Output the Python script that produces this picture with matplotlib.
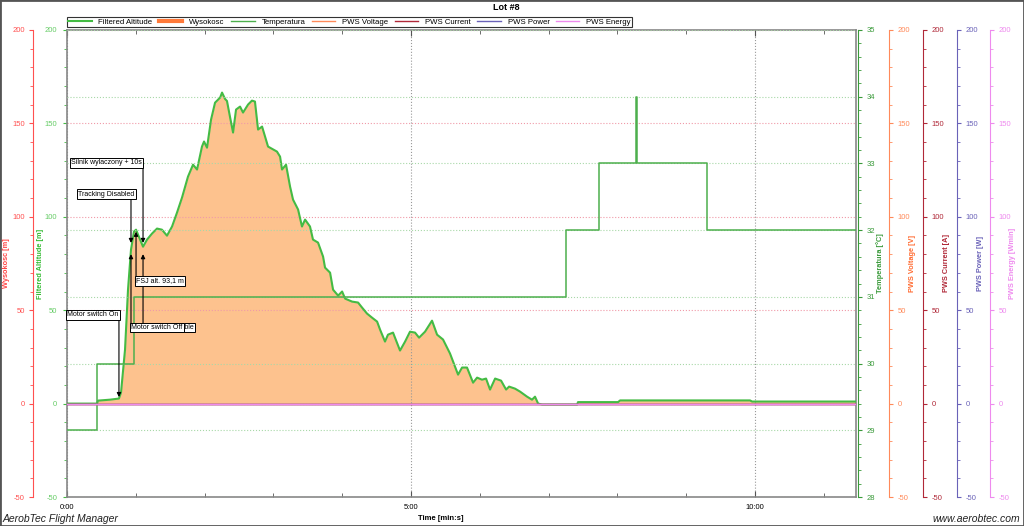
import matplotlib
matplotlib.use('Agg')
import matplotlib.pyplot as plt
import matplotlib.ticker as mticker
from matplotlib.lines import Line2D
from matplotlib.patches import Rectangle

plt.rcParams['font.family'] = ['Liberation Sans', 'DejaVu Sans']
plt.rcParams['font.size'] = 5.5
plt.rcParams['axes.unicode_minus'] = False

# flight log, time in seconds from start of recording
time_s = [0, 26.2, 27.0, 37.5, 45.3, 47.1, 50.6, 53.2, 55.8, 58.4,
          60.2, 63.7, 66.3, 69.8, 74.1, 78.5, 82.8, 87.2, 91.6, 95.9,
          100.3, 105.5, 109.9, 113.4, 117.7, 119.5, 122.1, 125.6, 129.1, 133.5,
          135.2, 137.8, 139.5, 142.1, 144.8, 147.4, 150.9, 153.5, 157.9, 161.3,
          163.9, 166.6, 170.1, 175.3, 183.1, 185.8, 187.5, 191.0, 194.5, 197.1,
          201.5, 204.9, 207.6, 211.9, 214.5, 218.9, 223.3, 225.0, 229.4, 232.0,
          236.4, 239.9, 242.5, 248.6, 253.8, 257.3, 261.6, 266.0, 270.4, 273.0,
          277.3, 279.9, 284.3, 290.4, 294.8, 299.1, 303.5, 307.0, 312.2, 318.3,
          322.7, 327.9, 334.0, 341.0, 344.5, 348.8, 354.1, 357.6, 361.9, 365.4,
          368.9, 373.3, 378.5, 382.9, 385.5, 390.7, 395.1, 401.2, 405.5, 408.1,
          410.8, 414.3, 444.8, 445.6, 480.5, 482.3, 595.6, 597.4, 688.0]
altitude = [0, 0, 1.6, 2.1, 2.7, 5.9, 28.9, 61.0, 82.4, 92.1,
            93.1, 87.8, 84.0, 87.8, 91.0, 93.7, 93.1, 89.9, 94.8, 102.2,
            110.3, 121.5, 127.9, 125.3, 137.6, 140.3, 137.0, 152.0, 161.1, 163.8,
            166.5, 163.1, 162.0, 153.6, 145.1, 157.4, 159.0, 155.8, 160.1, 162.2,
            161.7, 146.7, 148.3, 137.6, 134.9, 132.2, 125.3, 127.9, 116.2, 109.2,
            103.9, 94.8, 98.5, 94.8, 87.8, 86.2, 78.7, 72.8, 70.1, 61.0,
            57.8, 60.0, 56.2, 54.6, 54.1, 51.4, 48.2, 46.0, 43.9, 39.6,
            33.2, 36.9, 38.0, 28.4, 33.2, 38.5, 38.0, 35.3, 38.5, 44.4,
            36.9, 34.3, 26.8, 15.5, 19.3, 19.3, 11.2, 13.9, 12.8, 13.4,
            7.5, 13.4, 12.3, 7.5, 9.1, 8.0, 6.4, 3.7, 2.1, 3.7,
            0, -0.5, -0.5, 0.8, 0.8, 1.7, 1.7, 1.1, 1.1]
wysokosc = altitude  # raw altitude, same as filtered at this scale

temp_time_s = [0, 26.2, 58.4, 435.2, 464.0, 496.0, 497.0, 558.1, 688.0]
temperatura = [29.0, 30.0, 31.0, 32.0, 33.0, 34.0, 33.0, 32.0, 32.0]

pws_time_s = [0, 688.0]
pws_voltage = [0, 0]
pws_current = [0, 0]
pws_power = [0, 0]
pws_energy = [0, 0]

t_min = [t / 60 for t in time_s]
temp_min = [t / 60 for t in temp_time_s]
pws_min = [t / 60 for t in pws_time_s]

c_filt = '#44BB44'
c_wys = '#FF4444'
c_fill = '#FDC28E'
c_temp = '#3A9A3A'
c_volt = '#FF8A5A'
c_curr = '#B02838'
c_pow = '#6A62B8'
c_en = '#EE8AEE'

W, H = 1024, 526
fig = plt.figure(figsize=(W / 100, H / 100), dpi=100)
ax = fig.add_axes([67 / W, 1 - 497 / H, (856 - 67) / W, (497 - 30) / H])

ax.fill_between(t_min, 0, wysokosc, color=c_fill, lw=0, zorder=1)
ax.plot(t_min, altitude, color=c_filt, lw=1.5, zorder=3)

ax.set_xlim(0, 688 / 60)
ax.set_ylim(-50, 200)
ax.xaxis.set_major_locator(mticker.FixedLocator([0, 5, 10]))
ax.xaxis.set_major_formatter(mticker.FuncFormatter(lambda v, p: '%d:00' % int(round(v))))
ax.xaxis.set_minor_locator(mticker.MultipleLocator(1))
ax.tick_params(axis='x', which='both', direction='in', top=True, bottom=True,
               color='#555555', labelsize=5.5, pad=5)
ax.tick_params(axis='x', which='major', length=4)
ax.tick_params(axis='x', which='minor', length=3)
ax.yaxis.set_major_locator(mticker.MultipleLocator(50))
ax.yaxis.set_minor_locator(mticker.MultipleLocator(10))
ax.tick_params(axis='y', which='both', direction='out', color=c_filt,
               labelcolor='#66CC66', pad=4)
ax.tick_params(axis='y', which='major', length=3)
ax.tick_params(axis='y', which='minor', length=2)
ax.grid(axis='x', which='major', color='#999999', ls=':', lw=0.8)
ax.grid(axis='y', which='major', color='#F09AA8', ls=':', lw=0.8)
for s in ax.spines.values():
    s.set_color('#888888')
    s.set_linewidth(1.2)

# Wysokosc axis, outer left
axw = ax.twinx()
axw.set_ylim(-50, 200)
for s in axw.spines.values():
    s.set_visible(False)
axw.spines['left'].set_visible(True)
axw.spines['left'].set_position(('outward', 24.5))
axw.spines['left'].set_color('#FF5050')
axw.yaxis.set_ticks_position('left')
axw.yaxis.set_major_locator(mticker.MultipleLocator(50))
axw.yaxis.set_minor_locator(mticker.MultipleLocator(10))
axw.tick_params(axis='y', which='both', direction='out', color='#FF5050',
                labelcolor='#FF5050', pad=3)
axw.tick_params(axis='y', which='major', length=3)
axw.tick_params(axis='y', which='minor', length=2)

# Temperature axis
axt = ax.twinx()
axt.set_ylim(28, 35)
for s in axt.spines.values():
    s.set_visible(False)
axt.spines['right'].set_visible(True)
axt.spines['right'].set_position(('outward', 1.5))
axt.spines['right'].set_color(c_temp)
axt.yaxis.set_major_locator(mticker.MultipleLocator(1))
axt.yaxis.set_minor_locator(mticker.MultipleLocator(0.2))
axt.tick_params(axis='y', which='both', direction='out', color=c_temp,
                labelcolor=c_temp, pad=3)
axt.tick_params(axis='y', which='major', length=3)
axt.tick_params(axis='y', which='minor', length=2)
axt.grid(axis='y', which='major', color='#A8D8A8', ls=':', lw=0.8)
axt.step(temp_min, temperatura, where='post', color='#4DAF4D', lw=1.1)

# PWS axes on the right
pws = [('PWS Voltage [V]', pws_voltage, c_volt, 23.8),
       ('PWS Current [A]', pws_current, c_curr, 48.2),
       ('PWS Power [W]', pws_power, c_pow, 72.7),
       ('PWS Energy [Wmin]', pws_energy, c_en, 96.5)]
pws_axes = []
for name, vals, col, off in pws:
    a = ax.twinx()
    a.set_ylim(-50, 200)
    for s in a.spines.values():
        s.set_visible(False)
    a.spines['right'].set_visible(True)
    a.spines['right'].set_position(('outward', off))
    a.spines['right'].set_color(col)
    a.yaxis.set_major_locator(mticker.MultipleLocator(50))
    a.yaxis.set_minor_locator(mticker.MultipleLocator(10))
    a.tick_params(axis='y', which='both', direction='out', color=col,
                  labelcolor=col, pad=3)
    a.tick_params(axis='y', which='major', length=3)
    a.tick_params(axis='y', which='minor', length=2)
    a.plot(pws_min, vals, color=col, lw=1)
    pws_axes.append(a)

top = pws_axes[-1]


def note(t, tip, box_y, box_x, text):
    top.annotate('', xy=(t, tip), xytext=(t, box_y),
                 arrowprops=dict(arrowstyle='-|>', color='black', lw=0.8,
                                 shrinkA=0, shrinkB=0, mutation_scale=6))
    top.text(box_x, box_y, text, ha='left', va='center', fontsize=5, zorder=5,
             bbox=dict(boxstyle='square,pad=0.2', fc='white', ec='black', lw=0.7))


note(45.3 / 60, 3.5, 47.6, 0.0, 'Motor switch On')
note(66.3 / 60, 86, 129, 0.058, 'Silnik wylaczony + 10s')
note(55.8 / 60, 86, 112, 0.16, 'Tracking Disabled')
note(60.2 / 60, 92, 65.8, 60.2 / 60, 'FSJ alt. 93,1 m')
note(66.3 / 60, 80, 40.7, 66.3 / 60, 'Tracking Enable')
note(55.8 / 60, 80, 40.7, 55.8 / 60, 'Motor switch Off')

# axis titles
yc = 1 - 263.5 / H
axis_titles = [(7, 'Wysokosc [m]', c_wys), (40, 'Filtered Altitude [m]', '#33BB33'),
               (880, 'Temperatura [°C]', c_temp), (913, 'PWS Voltage [V]', '#FF6A30'),
               (947, 'PWS Current [A]', c_curr), (980, 'PWS Power [W]', c_pow),
               (1013, 'PWS Energy [Wmin]', c_en)]
for xp, txt, col in axis_titles:
    fig.text(xp / W, yc, txt, rotation=90, ha='center', va='center',
             color=col, fontweight='bold', fontsize=5.3)

handles = [Line2D([], [], color=c_filt, lw=1.5),
           Line2D([], [], color='#FF7A3A', lw=3),
           Line2D([], [], color='#4DAF4D', lw=1),
           Line2D([], [], color=c_volt, lw=1),
           Line2D([], [], color=c_curr, lw=1),
           Line2D([], [], color=c_pow, lw=1),
           Line2D([], [], color=c_en, lw=1)]
labels = ['Filtered Altitude', 'Wysokosc', 'Temperatura', 'PWS Voltage',
          'PWS Current', 'PWS Power', 'PWS Energy']
leg = fig.legend(handles, labels, loc='lower left', ncol=7, mode='expand',
                 bbox_to_anchor=(67 / W, 1 - 27 / H, 565 / W, 11 / H),
                 fontsize=5.6, frameon=True, fancybox=False, edgecolor='black',
                 borderpad=0.15, handlelength=3.0, handletextpad=0.9,
                 borderaxespad=0, columnspacing=1.0)
leg.get_frame().set_linewidth(0.8)

fig.text(506 / W, 1 - 7 / H, 'Lot #8', ha='center', va='center',
         fontweight='bold', fontsize=6.5)
fig.text(441 / W, 1 - 519 / H, 'Time [min:s]', ha='center', va='center',
         fontweight='bold', fontsize=5.5)
fig.text(3 / W, 1 - 519 / H, 'AerobTec Flight Manager', ha='left', va='center',
         style='italic', fontsize=7.5, color='#222222')
fig.text(1020 / W, 1 - 519 / H, 'www.aerobtec.com', ha='right', va='center',
         style='italic', fontsize=7.5, color='#222222')

fig.patches.append(Rectangle((0, 0), 1, 1, transform=fig.transFigure, fill=False,
                             ec='#555555', lw=2))

fig.savefig('out.png', dpi=100)
